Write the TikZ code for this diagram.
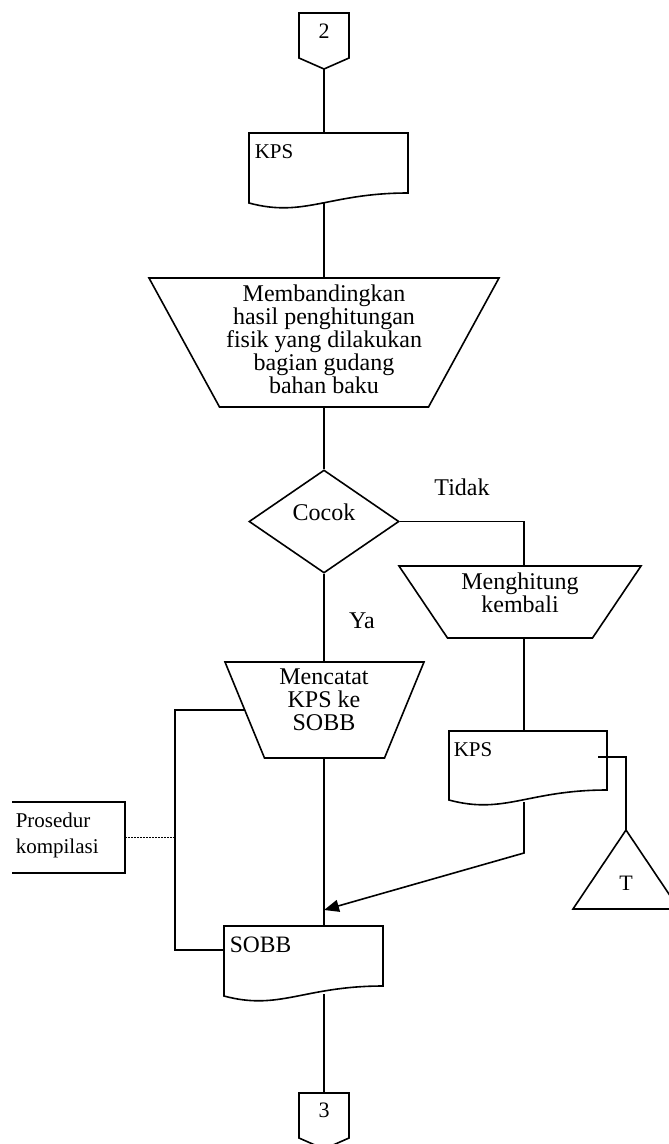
\documentclass[tikz,border=0pt]{standalone}
\usepackage{fontspec}
\setmainfont{Liberation Serif}
\usetikzlibrary{shapes.geometric,arrows.meta,calc}

% outline of a document symbol drawn over an empty rectangular node
\newcommand\docoutline[1]{%
  \draw (#1.north west) -- (#1.north east) -- (#1.south east)
    .. controls ($(#1.south east)!0.5!(#1.south west)$)
           and ($(#1.south west)!0.35!(#1.south east)+(0,25)$)
    .. ($(#1.south west)+(0,10)$) -- cycle;}
% outline of a manual-operation trapezoid (wide side up)
\newcommand\trapoutline[2]{%
  \draw (#1.north west) -- (#1.north east) -- ($(#1.south east)+(-#2,0)$)
    -- ($(#1.south west)+(#2,0)$) -- cycle;}
% outline of an off-page connector
\newcommand\offpage[1]{%
  \draw (#1.north west) -- (#1.north east) -- (#1.south east)
    -- ($(#1.south)+(0,11)$) -- (#1.south west) -- cycle;}

\begin{document}
\begin{tikzpicture}[x=1pt,y=-1pt,line width=1.6pt,line join=miter,
  region/.style 2 args={rectangle,inner sep=0pt,outer sep=0pt,
    minimum width=#1,minimum height=#2},
  txt/.style={font=\fontsize{24}{23}\selectfont,align=center,inner sep=0pt},
  lbl/.style={font=\fontsize{21}{26}\selectfont,align=left,inner sep=0pt},
  num/.style={font=\fontsize{22}{22}\selectfont,inner sep=0pt},
  arrowtip/.style={-{Triangle[length=15pt,width=12pt]}},
  dots/.style={line width=1.8pt,dash pattern=on 1.6pt off 1.4pt}]
\useasboundingbox (0,0) rectangle (669,1144);
\clip (0,0) rectangle (669,1144);

% ---- shapes ----
\node[region={50pt}{45pt}] (c2) at (324,35.5) {};
\offpage{c2}
\node[num] (c2t) at (324,31) {2};

\node[region={159pt}{60pt}] (kps1) at (328.5,163) {};
\docoutline{kps1}
\node[lbl,anchor=west] (kps1t) at (254,152) {KPS};

\node[region={350pt}{129pt}] (cmp) at (324,342.5) {};
\trapoutline{cmp}{70.5}
\node[txt] (cmpt) at (324,339) {Membandingkan\\hasil penghitungan\\fisik yang dilakukan\\bagian gudang\\bahan baku};

\node[diamond,draw,inner sep=0pt,minimum width=150pt,minimum height=103pt] (dm) at (324,521.5) {};
\node[txt] (dmt) at (324,512) {Cocok};

\node[txt] (tidak) at (462,487) {Tidak};
\node[txt] (ya) at (362,621) {Ya};

\node[region={242pt}{72pt}] (mh) at (520,602) {};
\trapoutline{mh}{48.5}
\node[txt] (mht) at (520,592.5) {Menghitung\\kembali};

\node[region={199pt}{96pt}] (mc) at (324.5,710) {};
\trapoutline{mc}{39.5}
\node[txt] (mct) at (324,700) {Mencatat\\KPS ke\\SOBB};

\node[region={158pt}{59pt}] (kps2) at (528,760.5) {};
\docoutline{kps2}
\node[lbl,anchor=west] (kps2t) at (453,750) {KPS};

\node[region={106pt}{79pt}] (tri) at (626,869.5) {};
\draw (tri.south west) -- (tri.north) -- (tri.south east) -- cycle;
\node[num] (trit) at (626,883) {T};

\node[region={113pt}{71pt}] (pk) at (68.5,837.5) {};
\draw (pk.north west) -- (pk.north east) -- (pk.south east) -- (pk.south west);
\node[lbl,anchor=west] (pkt) at (15,835) {Prosedur\\kompilasi};

\node[region={159pt}{60pt}] (sobb) at (303.5,956) {};
\docoutline{sobb}
\node[lbl,font=\fontsize{23.5}{23}\selectfont,anchor=west] (sobbt) at (229,945) {SOBB};

\node[region={50pt}{45pt}] (c3) at (324,1115.5) {};
\offpage{c3}
\node[num] (c3t) at (324,1110) {3};

% ---- connectors ----
\coordinate (c2tip) at ($(c2.south)+(0,11)$);
\draw (c2tip) -- (c2tip |- kps1.north);
\draw ($(c2tip |- kps1.south)+(0,10)$) -- (c2tip |- cmp.north);
\draw (cmp.south -| c2tip) -- (dm.north);

\coordinate (tcorner) at (524,521.5);
\draw (dm.east) -- (tcorner) -- (tcorner |- mh.north);
\draw (dm.south) -- (dm.south |- mc.north);

\draw (tcorner |- mh.south) -- (tcorner |- kps2.north);
\coordinate (tstart) at (598,757);
\coordinate (tbend) at (tri.north |- tstart);
\draw (tstart) -- (tbend) -- (tri.north);

\coordinate (kbend) at (524,853);
\coordinate (tip) at (324,910);
\draw[arrowtip] ($(tcorner |- kps2.south)+(0,12)$) -- (kbend) -- (tip);

\draw (mc.south -| c2tip) -- (c2tip |- sobb.north);

\coordinate (mcl) at ($(mc.north west)!0.5!($(mc.south west)+(39.5,0)$)$);
\coordinate (lcol) at (175,0);
\draw (mcl) -- (lcol |- mcl) -- ($(lcol |- sobb.north west)+(0,24)$) -- ($(sobb.north west)+(0,24)$);
\draw[dots] (pk.east) -- (lcol |- pk.east);

\draw ($(c2tip |- sobb.south)+(0,8)$) -- (c3.north);
\end{tikzpicture}
\end{document}
